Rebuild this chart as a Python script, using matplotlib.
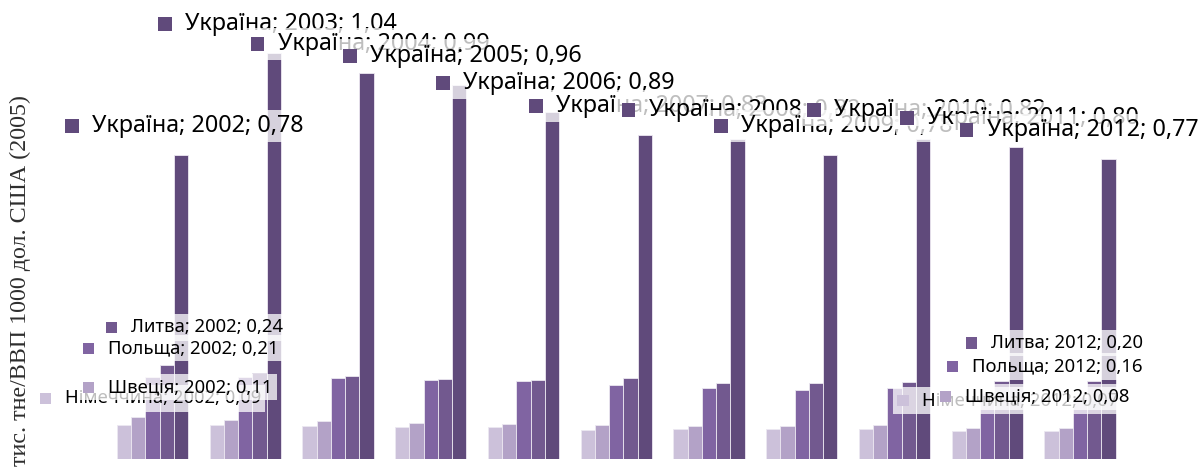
import numpy as np
import matplotlib
matplotlib.use('Agg')
import matplotlib.pyplot as plt
from matplotlib.offsetbox import AnnotationBbox, HPacker, TextArea, DrawingArea
from matplotlib.patches import Rectangle

# data (thousand toe per 1000 USD GDP, 2005 prices)
years = [2002, 2003, 2004, 2005, 2006, 2007, 2008, 2009, 2010, 2011, 2012]
germany = [0.086, 0.086, 0.085, 0.083, 0.081, 0.074, 0.076, 0.076, 0.077, 0.073, 0.073]
sweden = [0.107, 0.100, 0.097, 0.092, 0.089, 0.086, 0.085, 0.085, 0.086, 0.080, 0.080]
poland = [0.210, 0.210, 0.207, 0.203, 0.199, 0.189, 0.181, 0.176, 0.183, 0.170, 0.160]
lithuania = [0.240, 0.220, 0.212, 0.206, 0.202, 0.207, 0.195, 0.195, 0.197, 0.200, 0.200]
ukraine = [0.78, 1.04, 0.99, 0.96, 0.89, 0.83, 0.82, 0.78, 0.82, 0.80, 0.77]

names = ['Німеччина', 'Швеція', 'Польща', 'Литва', 'Україна']
series = [germany, sweden, poland, lithuania, ukraine]
colors = ['#CCC1DA', '#B3A2C7', '#8064A2', '#72598F', '#604A7B']

W, H = 1204, 468
fig = plt.figure(figsize=(W / 100, H / 100), dpi=100)
ax = fig.add_axes([59.75 / W, 9 / H, 1113 / W, 448.5 / H])

x = np.arange(len(years))
bw = 0.154
for k, (vals, c) in enumerate(zip(series, colors)):
    ax.bar(x + (k - 2) * bw, vals, width=bw, color=c, edgecolor='#ece8f1', linewidth=0.6, zorder=2)

ax.set_xlim(-1.0, 11.0)
ax.set_ylim(0, 1.15)
ax.axis('off')

PX = 0.72  # pixels -> points at 100 dpi


def add_label(k, i, size, sq, gap, dx_px, up_px, z):
    xv = x[i] + (k - 2) * bw
    val = series[k][i]
    da = DrawingArea(sq, sq, 0, 0)
    da.add_artist(Rectangle((0, 0), sq, sq, fc=colors[k], ec='none'))
    txt = f'{names[k]}; {years[i]}; {val:.2f}'.replace('.', ',')
    ta = TextArea(txt, textprops=dict(fontsize=size, family='Noto Sans', color='black'))
    box = HPacker(children=[da, ta], align='center', pad=0, sep=gap)
    ab = AnnotationBbox(box, (xv, val), xybox=(dx_px * PX, up_px * PX),
                        boxcoords='offset points', box_alignment=(0, 0.5),
                        frameon=True, pad=0.45,
                        bboxprops=dict(boxstyle='square', fc=(1, 1, 1, 0.75), ec='none'),
                        annotation_clip=False, zorder=z)
    ax.add_artist(ab)


z = 5
# lower series, first and last year
lower = {0: [(0, -84, 27), (10, -154, 30)],
         1: [(0, -55, 30), (10, -126, 31)],
         2: [(0, -70, 29), (10, -133, 30)],
         3: [(0, -61, 38), (10, -128, 38)]}
for k in range(4):
    for i, dx, up in lower[k]:
        add_label(k, i, 13.3, 8, 10, dx, up, z)
        z += 1

# Ukraine, every year
for i in range(len(years)):
    dx = -149 if i == len(years) - 1 else -116
    add_label(4, i, 16.8, 10, 9.5, dx, 29, z)
    z += 1

fig.text(20 / W, 1 - 95 / H, 'тис. тне/ВВП 1000 дол. США (2005)', rotation=90,
         ha='center', va='top', family='Liberation Serif', fontsize=17.3, color='#2e2e2e')

fig.savefig('out.png', dpi=100)
